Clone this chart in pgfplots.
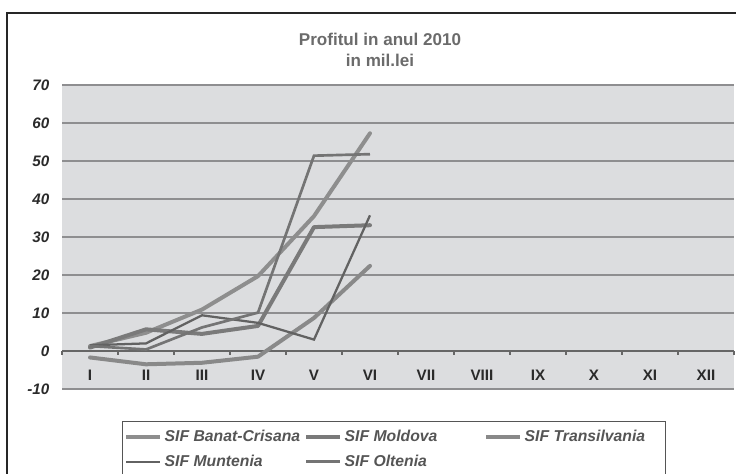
\documentclass[border=0pt]{standalone}
\usepackage{fontspec}
\setmainfont{Liberation Sans}
\usepackage{pgfplots}
\usepackage{pgfplotstable}
\pgfplotsset{compat=1.18}

\definecolor{bgplot}{HTML}{DCDDDF}
\definecolor{gridc}{HTML}{8E8E90}
\definecolor{zeroc}{HTML}{666666}
\definecolor{tickc}{HTML}{2A2A2A}
\definecolor{titlec}{HTML}{6B6B6B}
\definecolor{legc}{HTML}{555555}
\definecolor{cBanat}{HTML}{8E8E8E}
\definecolor{cMoldova}{HTML}{7A7A7A}
\definecolor{cTrans}{HTML}{898989}
\definecolor{cMunt}{HTML}{626262}
\definecolor{cOlt}{HTML}{747474}

% profit per month, mil. lei (I..VI)
\pgfplotstableread{
m  banat moldova trans muntenia oltenia
1  1.3   0.9    -1.7   1.5   1.3
2  4.8   5.7    -3.5   2.0   0.4
3  10.9  4.5    -3.1   9.4   6.2
4  19.7  6.6    -1.5   7.4   10.1
5  35.5  32.6    8.7   3.0   51.4
6  57.3  33.1   22.4  35.7   51.8
}\profit

\begin{document}
\begin{tikzpicture}
\begin{axis}[
  at={(46.5pt,63.75pt)}, anchor=south west,
  scale only axis, width=504pt, height=228pt,
  xmin=0.5, xmax=12.5, ymin=-10, ymax=70,
  axis x line=middle, axis y line=left,
  axis line style={-},
  y axis line style={draw=none},
  x axis line style={draw=zeroc, line width=1.5pt},
  axis background/.style={fill=bgplot},
  ymajorgrids, grid style={draw=gridc, line width=0.9pt},
  ytick={-10,0,10,20,30,40,50,60,70},
  xtick={1,2,3,4,5,6,7,8,9,10,11,12},
  xticklabels={I,II,III,IV,V,VI,VII,VIII,IX,X,XI,XII},
  major tick length=0pt,
  extra x ticks={0.5,1.5,2.5,3.5,4.5,5.5,6.5,7.5,8.5,9.5,10.5,11.5,12.5},
  extra x tick labels={},
  extra x tick style={major tick length=3pt, tick align=outside,
    tick style={draw=zeroc, line width=0.9pt}},
  /pgf/number format/assume math mode=true,
  xticklabel style={font=\bfseries\fontsize{11.4}{13}\selectfont, text=tickc, yshift=-11pt},
  yticklabel style={font=\bfseries\itshape\fontsize{11.4}{13}\selectfont, text=tickc, xshift=-6pt},
  no markers,
  legend columns=3,
  legend cell align=left,
  legend style={at={(0.0893,-0.1053)}, anchor=north west,
    draw=legc, line width=1.1pt, fill=white,
    inner xsep=1pt, inner ysep=4.3pt, row sep=4.6pt, column sep=0pt,
    font=\bfseries\itshape\fontsize{11.8}{13}\selectfont, text=legc},
  legend image code/.code={\draw[#1, line cap=butt] (0pt,0pt) -- (25.5pt,0pt);},
]
\addplot[cBanat, line width=3pt, line cap=round, line join=round] table[x=m, y=banat] {\profit};
\addlegendentry{\makebox[102.5pt][l]{SIF Banat-Crisana}}
\addplot[cMoldova, line width=3pt, line cap=round, line join=round] table[x=m, y=moldova] {\profit};
\addlegendentry{\makebox[102.5pt][l]{SIF Moldova}}
\addplot[cTrans, line width=3pt, line cap=round, line join=round] table[x=m, y=trans] {\profit};
\addlegendentry{\makebox[102.5pt][l]{SIF Transilvania}}
\addplot[cMunt, line width=1.7pt] table[x=m, y=muntenia] {\profit};
\addlegendentry{\makebox[102.5pt][l]{SIF Muntenia}}
\addplot[cOlt, line width=2pt] table[x=m, y=oltenia] {\profit};
\addlegendentry{\makebox[102.5pt][l]{SIF Oltenia}}
\end{axis}

% title
\node[anchor=base, font=\bfseries\fontsize{12.8}{15}\selectfont, text=titlec] at (285pt,321pt) {Profitul in anul 2010};
\node[anchor=base, font=\bfseries\fontsize{12.8}{15}\selectfont, text=titlec] at (285pt,305.25pt) {in mil.lei};

% chart frame (cut by the page edge at right and bottom)
\draw[black!85, line width=1.1pt] (5.25pt,-10pt) -- (5.25pt,345.75pt) -- (570pt,345.75pt);

\pgfresetboundingbox
\useasboundingbox (0,0) rectangle (552pt,355.5pt);
\end{tikzpicture}
\end{document}
